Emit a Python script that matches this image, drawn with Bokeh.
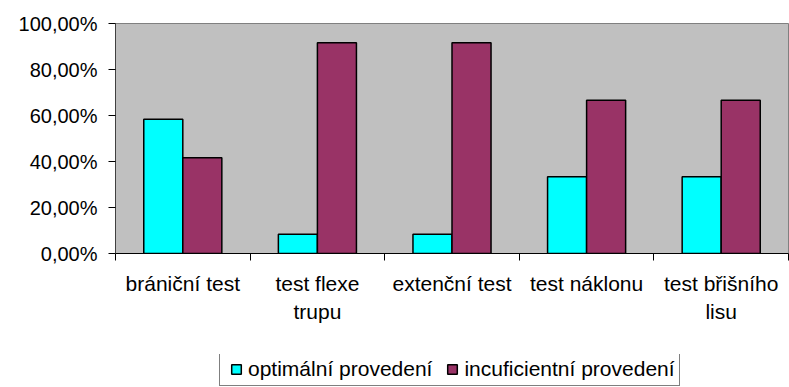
from bokeh.plotting import figure
from bokeh.models import Range1d, FixedTicker, CustomJSTickFormatter, Legend, LegendItem
from bokeh.layouts import column
from bokeh.embed import file_html
from bokeh.resources import INLINE
import numpy as np

categories = ["brániční test", "test flexe\ntrupu", "extenční test", "test náklonu", "test břišního\nlisu"]
optimal = [58.33, 8.33, 8.33, 33.33, 33.33]
insufficient = [41.67, 91.67, 91.67, 66.67, 66.67]
series_names = ["optimální provedení", "incuficientní provedení"]
y_ticks = [0, 20, 40, 60, 80, 100]
y_tick_labels = ["0,00%", "20,00%", "40,00%", "60,00%", "80,00%", "100,00%"]
colors = ["#00FFFF", "#993366"]

FONT = "Liberation Sans"

p = figure(width=789, height=354, x_range=Range1d(0, len(categories)), y_range=Range1d(0, 100),
           output_backend="svg", toolbar_location=None,
           min_border_left=115, min_border_right=1, min_border_top=23, min_border_bottom=101)
p.background_fill_color = "#C0C0C0"
p.border_fill_color = "white"
p.outline_line_color = "#808080"
p.outline_line_width = 1
p.xgrid.visible = False
p.ygrid.visible = False

idx = np.arange(len(categories))
bw = 0.29
r1 = p.vbar(x=idx + 0.5 - bw / 2, top=optimal, bottom=0, width=bw,
            fill_color=colors[0], line_color="black", line_width=1.5)
r2 = p.vbar(x=idx + 0.5 + bw / 2, top=insufficient, bottom=0, width=bw,
            fill_color=colors[1], line_color="black", line_width=1.5)

xa = p.xaxis[0]
xa.ticker = FixedTicker(ticks=list(idx + 0.5), minor_ticks=list(range(len(categories) + 1)))
xa.formatter = CustomJSTickFormatter(args=dict(labels=categories),
                                     code="return labels[Math.floor(tick)]")
xa.major_tick_out = 0
xa.major_tick_in = 0
xa.minor_tick_out = 7
xa.minor_tick_in = 0
xa.minor_tick_line_color = "black"
xa.axis_line_color = "black"
xa.major_label_text_font = FONT
xa.major_label_text_font_size = "21px"
xa.major_label_text_color = "black"
xa.major_label_standoff = 11
xa.major_label_text_line_height = 1.25

ya = p.yaxis[0]
ya.ticker = FixedTicker(ticks=y_ticks, minor_ticks=[])
ya.formatter = CustomJSTickFormatter(args=dict(vals=y_ticks, labels=y_tick_labels),
                                     code="const i = vals.indexOf(tick); return i >= 0 ? labels[i] : ''")
ya.major_tick_out = 7
ya.major_tick_in = 0
ya.minor_tick_line_color = None
ya.major_tick_line_color = "black"
ya.axis_line_color = "#404040"
ya.major_label_text_font = FONT
ya.major_label_text_font_size = "20px"
ya.major_label_text_color = "black"
ya.major_label_standoff = 11

# legend strip below the chart
p2 = figure(width=789, height=33, x_range=Range1d(0, 1), y_range=Range1d(0, 1),
            output_backend="svg", toolbar_location=None,
            x_axis_location=None, y_axis_location=None,
            min_border_left=0, min_border_right=0, min_border_top=0, min_border_bottom=0)
p2.grid.visible = False
p2.outline_line_color = None
p2.background_fill_color = "white"
p2.border_fill_color = "white"
l1 = p2.scatter(x=[-10], y=[-10], marker="square", size=10,
                fill_color=colors[0], line_color="black", line_width=1.5)
l2 = p2.scatter(x=[-10], y=[-10], marker="square", size=10,
                fill_color=colors[1], line_color="black", line_width=1.5)

legend = Legend(items=[LegendItem(label=series_names[0], renderers=[l1]),
                       LegendItem(label=series_names[1], renderers=[l2])],
                orientation="horizontal", location=(104, 1),
                border_line_color="black", border_line_width=1,
                background_fill_color="white", background_fill_alpha=1,
                padding=4, spacing=8, margin=0,
                glyph_width=24, glyph_height=24, label_standoff=-2,
                label_text_font=FONT, label_text_font_size="21px", label_text_color="black")
p2.add_layout(legend, "center")

layout = column(p, p2, spacing=0)
open("out.html", "w").write(file_html(layout, INLINE))
